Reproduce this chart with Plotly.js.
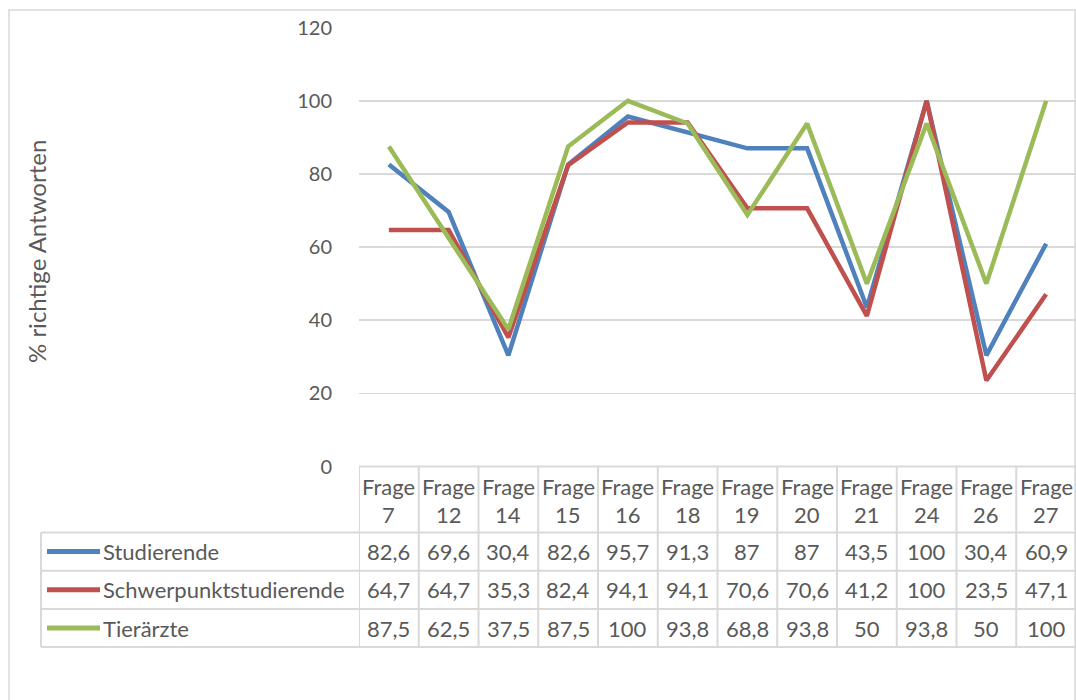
<!DOCTYPE html>
<html>
<head>
<meta charset="utf-8">
<script src="https://cdn.plot.ly/plotly-3.0.1.min.js"></script>
<style>html,body{margin:0;padding:0;background:#fff;}#chart{width:1076px;height:700px;}</style>
</head>
<body>
<div id="chart"></div>
<script>
// ---- data ----
const questionNumbers = ["7","12","14","15","16","18","19","20","21","24","26","27"];
const categories = questionNumbers.map(n => "Frage " + n);
const seriesNames = ["Studierende", "Schwerpunktstudierende", "Tierärzte"];
const studierende = [82.6, 69.6, 30.4, 82.6, 95.7, 91.3, 87, 87, 43.5, 100, 30.4, 60.9];
const schwerpunkt = [64.7, 64.7, 35.3, 82.4, 94.1, 94.1, 70.6, 70.6, 41.2, 100, 23.5, 47.1];
const tieraerzte  = [87.5, 62.5, 37.5, 87.5, 100, 93.8, 68.8, 93.8, 50, 93.8, 50, 100];
const yTicks = [0, 20, 40, 60, 80, 100, 120];
const yTitle = "% richtige Antworten";

// ---- styling ----
const W = 1076, H = 700;
const colors = ["#4F81BD", "#C0504D", "#9BBB59"];
const textColor = "#595959";
const gridColor = "#D9D9D9";
const font = "Lato, 'Open Sans', sans-serif";
const fs = 22;
const py = y => 1 - y / H;
const px = x => x / W;

const allSeries = [studierende, schwerpunkt, tieraerzte];
const traces = allSeries.map((vals, i) => ({
  type: "scatter", mode: "lines",
  x: categories, y: vals, name: seriesNames[i],
  line: {color: colors[i], width: 4.5},
  hoverinfo: "x+y+name"
}));

const plotLeft = 359, plotTop = 27.7, plotBottom = 466.5;
const tableTop = 466.5, headerBottom = 532.5, rowH = 38.2, tableLeft = 41;
const nRows = allSeries.length;
const tableBottom = headerBottom + nRows * rowH;

const shapes = [];
const annotations = [];
const lineStyle = {color: gridColor, width: 2};

// outer chart border
shapes.push({type: "rect", xref: "paper", yref: "paper",
  x0: px(9), x1: px(1075), y0: -0.05, y1: py(10),
  line: {color: gridColor, width: 1.5}, fillcolor: "rgba(0,0,0,0)", layer: "below"});

// table: horizontal lines
shapes.push({type: "line", xref: "paper", yref: "paper", x0: px(plotLeft), x1: 1, y0: py(tableTop), y1: py(tableTop), line: lineStyle});
for (let r = 0; r <= nRows; r++) {
  const y = headerBottom + r * rowH;
  shapes.push({type: "line", xref: "paper", yref: "paper", x0: px(tableLeft), x1: 1, y0: py(y), y1: py(y), line: lineStyle});
}
// vertical lines
for (let i = 0; i <= categories.length; i++) {
  shapes.push({type: "line", xref: "x", yref: "paper", x0: i - 0.5, x1: i - 0.5,
    y0: py(tableTop), y1: py(tableBottom), line: lineStyle});
}
shapes.push({type: "line", xref: "paper", yref: "paper", x0: px(tableLeft), x1: px(tableLeft),
  y0: py(headerBottom), y1: py(tableBottom), line: lineStyle});

// header text
categories.forEach((c, i) => {
  annotations.push({xref: "x", yref: "paper", x: i, y: py(486), text: "Frage",
    showarrow: false, font: {family: font, size: fs, color: textColor}, xanchor: "center", yanchor: "middle"});
  annotations.push({xref: "x", yref: "paper", x: i, y: py(514), text: questionNumbers[i],
    showarrow: false, font: {family: font, size: fs, color: textColor}, xanchor: "center", yanchor: "middle"});
});

// rows
allSeries.forEach((vals, r) => {
  const yc = headerBottom + r * rowH + rowH / 2;
  shapes.push({type: "line", xref: "paper", yref: "paper", x0: px(47), x1: px(100), y0: py(yc), y1: py(yc),
    line: {color: colors[r], width: 5}});
  annotations.push({xref: "paper", yref: "paper", x: px(101), y: py(yc), text: seriesNames[r],
    showarrow: false, font: {family: font, size: fs, color: textColor}, xanchor: "left", yanchor: "middle"});
  vals.forEach((v, i) => {
    annotations.push({xref: "x", yref: "paper", x: i, y: py(yc), text: String(v).replace(".", ","),
      showarrow: false, font: {family: font, size: fs, color: textColor}, xanchor: "center", yanchor: "middle"});
  });
});

// y-axis title
annotations.push({xref: "paper", yref: "paper", x: px(36), y: py(252), text: yTitle, textangle: -90,
  showarrow: false, font: {family: font, size: 24, color: textColor}, xanchor: "center", yanchor: "middle"});

const layout = {
  width: W, height: H,
  margin: {l: 0, r: 0, t: 0, b: 0, pad: 0},
  paper_bgcolor: "#fff", plot_bgcolor: "#fff",
  showlegend: false,
  xaxis: {domain: [px(plotLeft), 1], type: "category", range: [-0.5, categories.length - 0.5],
    showticklabels: false, showgrid: false, zeroline: false, showline: false, ticks: "", fixedrange: true},
  yaxis: {domain: [py(plotBottom), py(plotTop)], range: [0, 120], tickvals: yTicks,
    showgrid: true, gridcolor: gridColor, gridwidth: 1.5, zeroline: false, showline: false,
    ticks: "outside", ticklen: 22, tickcolor: "rgba(0,0,0,0)",
    tickfont: {family: font, size: 20, color: textColor}, fixedrange: true},
  shapes: shapes,
  annotations: annotations,
  font: {family: font, color: textColor}
};

Plotly.newPlot("chart", traces, layout, {displayModeBar: false, staticPlot: true});
</script>
</body>
</html>
